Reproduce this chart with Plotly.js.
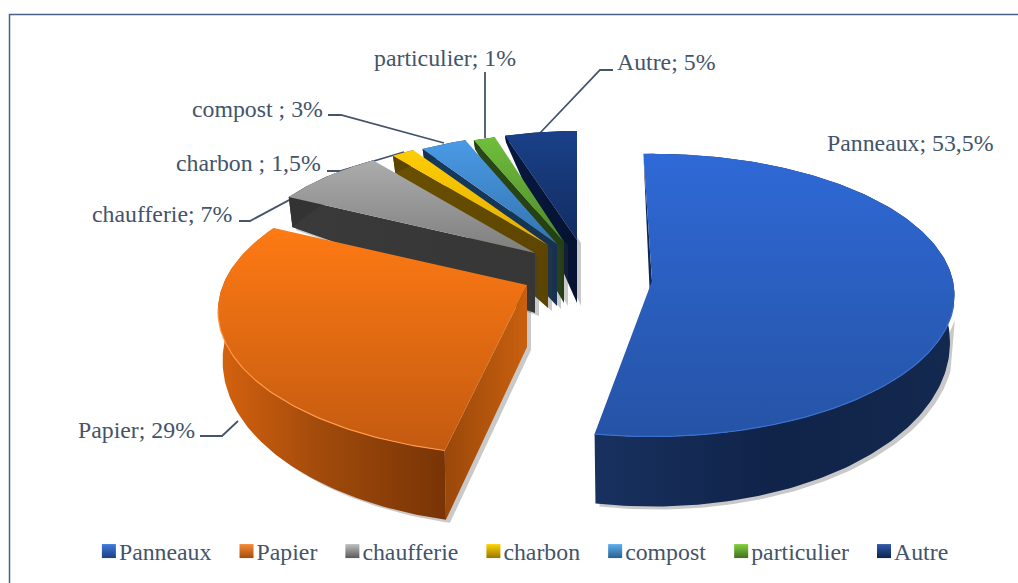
<!DOCTYPE html>
<html><head><meta charset="utf-8">
<script src="https://cdn.plot.ly/plotly-3.0.1.min.js"></script>
<style>html,body{margin:0;padding:0;background:#fff}#c{width:1018px;height:583px}</style>
</head><body><div id="c"></div>
<script>
// ---- data ----
const categories = ["Panneaux","Papier","chaufferie","charbon","compost","particulier","Autre"];
const values = [53.5,29,7,1.5,3,1,5];
const sliceLabels = ["Panneaux; 53,5%","Papier; 29%","chaufferie; 7%","charbon ; 1,5%","compost ; 3%","particulier; 1%","Autre; 5%"];

// ---- styling / geometry of the 3D projection ----
const geom = [
 {cx:652,cy:281,rx:301,ry:140,k:.10,rot:-1.8,rotEnd:-2.7,d:62},
 {cx:527,cy:285,rx:304,ry:140,k:.18,rot:.3,rotEnd:-1,d:62},
 {cx:535,cy:253,rx:292,ry:125,k:.10,rot:1,rotEnd:1,d:60},
 {cx:548,cy:245,rx:273,ry:122,k:.10,rot:0,rotEnd:0,d:63},
 {cx:557,cy:244,rx:272,ry:122,k:.10,rot:0,rotEnd:0,d:62},
 {cx:564,cy:242,rx:262,ry:120,k:.10,rot:-.5,rotEnd:1.2,d:61},
 {cx:577,cy:240,rx:255,ry:120,k:.10,rot:0,rotEnd:0,d:63}
];
const topCols = [["#2553a6","#2f69d6"],["#c35a10","#fe7a14"],["#7e7e7e","#acacac"],["#e4ae00","#ffcd05"],["#3474b0","#4a9ae6"],["#4d8a2c","#70be3c"],["#122d62","#1a4088"]];
const rimCols = ["#3a70d0","#ff9a4a"];
const faceCols = [["#0c2148","#12295a"],["#9a480a","#c9600f"],["#3a3a3a","#363636"],["#6b5000","#5c4500"],["#173a5e","#16324f"],["#2a4815","#243f12"],["#08193f","#051232"]];
const wallCols = [
 [[0,"#18315f"],[.5,"#102349"],[1,"#14294f"]],
 [[0,"#d6620f"],[.45,"#a14a0b"],[1,"#783406"]],
 [[0,"#333"],[1,"#333"]],[[0,"#5c4500"],[1,"#5c4500"]],[[0,"#16324f"],[1,"#16324f"]],[[0,"#243f12"],[1,"#243f12"]],[[0,"#051232"],[1,"#051232"]]
];
const legendCols = [["#3f7be0","#1f3f80"],["#f58a3a","#a84d0c"],["#c0c0c0","#5a5a5a"],["#ffd400","#9a7500"],["#5cb0f0","#2a5f90"],["#84d040","#3f7020"],["#2f5aa8","#0f2450"]];
const textCol = "#44546A";
const font = {family:"Liberation Serif, Times New Roman, serif", size:23.8, color:textCol};
const labelPos = [[825,143],[76,430],[90,214],[174,163],[190,109],[372,58],[615,62]];
const leaders = [
 "M200,436 L222,436 L238,421",
 "M239,221 L250,221 L334,176",
 "M327,171 L340,171 L404,152",
 "M328,115 L341,115 L444,143",
 "M485,72 L485,138",
 "M613,70 L600,70 L540,133"
];

// projection of a point on the pie: angle clockwise from 12 o'clock
function rimTop(g,aRad){
  const X=Math.sin(aRad), Y=-Math.cos(aRad), f=1/(1-g.k*Y);
  return {x:g.cx+g.rx*X*f, y:g.cy+g.ry*Y*f, Y};
}
function rimDepth(Y){ return Y>=0 ? 45+25*Y : 45*Math.pow(Math.max(0,1+Y),.62); }
function rimBottom(g,aRad){
  const p=rimTop(g,aRad);
  return {x:g.cx+(p.x-g.cx)*.985, y:p.y+rimDepth(p.Y), Y:p.Y};
}
function poly(pts,extra){
  return Object.assign({x:pts.map(p=>p.x),y:pts.map(p=>p.y),mode:"lines",fill:"toself",
    line:{width:0},showlegend:false,hoverinfo:"skip"},extra);
}

const total = values.reduce((s,v)=>s+v,0);
let acc=0;
const slices = values.map((v,i)=>{const a0=acc/total*360; acc+=v; return {i,a0,a1:acc/total*360};});

const traces=[];
// legend carriers
categories.forEach((c,i)=>{
  traces.push({x:[null],y:[null],mode:"markers",name:c,hoverinfo:"skip",
    marker:{symbol:"square",size:14,color:legendCols[i][0],gradient:{type:"vertical",color:legendCols[i][1]},line:{width:0}}});
});
// paint from the back of the pie to the front
[6,5,4,3,2,1,0].forEach(i=>{
  const g=geom[i], s=slices[i];
  const arc=[],arcB=[];
  const n=Math.max(6,Math.ceil(s.a1-s.a0));
  const start=(s.a0+g.rot)*Math.PI/180, end=(s.a1+g.rotEnd)*Math.PI/180;
  for(let j=0;j<=n;j++){const a=start+(end-start)*j/n; arc.push(rimTop(g,a)); arcB.push(rimBottom(g,a));}
  const apex={x:g.cx,y:g.cy}, apexB={x:g.cx,y:g.cy+g.d};
  const facePts=[arc[0],apex,apexB,arcB[0],arc[0]];
  const wallPts=arc.concat(arcB.slice().reverse()).concat([arc[0]]);
  // soft shadow, only under what faces the viewer
  const off=p=>({x:p.x+4,y:p.y+3});
  if(i>0) traces.push(poly(facePts.map(off),{fillcolor:"rgba(60,60,60,.28)"}));
  if(i<2){
    const frontB=arcB.filter(p=>p.Y>.25);
    const frontT=arc.filter(p=>p.Y>.25);
    traces.push(poly(frontT.concat(frontB.slice().reverse()).map(off),{fillcolor:"rgba(60,60,60,.28)"}));
  }
  // cut face
  traces.push(poly(facePts,{fillgradient:{type:"horizontal",colorscale:[[0,faceCols[i][0]],[1,faceCols[i][1]]]}}));
  // outer wall
  traces.push(poly(wallPts,{fillgradient:{type:"horizontal",colorscale:wallCols[i]}}));
  // top face
  traces.push(poly([apex].concat(arc).concat([apex]),{fillgradient:{type:"vertical",colorscale:[[0,topCols[i][0]],[1,topCols[i][1]]]}}));
  // lit front rim of the two large slices
  if(i<2){
    const front=arc.filter(p=>p.Y>.15);
    traces.push({x:front.map(p=>p.x),y:front.map(p=>p.y),mode:"lines",line:{width:1.2,color:rimCols[i]},showlegend:false,hoverinfo:"skip"});
  }
});

const layout={
  width:1018,height:583,margin:{l:0,r:0,t:0,b:0},paper_bgcolor:"#fff",plot_bgcolor:"#fff",
  xaxis:{range:[0,1018],visible:false,fixedrange:true},
  yaxis:{range:[583,0],visible:false,fixedrange:true},
  font:font,
  showlegend:true,
  legend:{orientation:"h",x:0.0775,xanchor:"left",y:0.017,yanchor:"bottom",font:font,bgcolor:"rgba(0,0,0,0)",itemwidth:30,tracegroupgap:0,itemclick:false,itemdoubleclick:false},
  shapes:[
    {type:"path",path:"M1018,14.5 L9.5,14.5 L9.5,583",line:{color:"#4a6285",width:1.5},layer:"below"}
  ].concat(leaders.map(p=>({type:"path",path:p,line:{color:textCol,width:1.8},layer:"below"}))),
  annotations:sliceLabels.map((t,i)=>({text:t,x:labelPos[i][0],y:labelPos[i][1],xref:"x",yref:"y",xanchor:"left",yanchor:"middle",showarrow:false,font:font}))
};
Plotly.newPlot("c",traces,layout,{displayModeBar:false}).then(()=>{
  // the reference keeps its legend swatches close to their labels
  document.querySelectorAll("#c .legend .legendsymbols").forEach(el=>el.setAttribute("transform","translate(10,0)"));
});
</script></body></html>
